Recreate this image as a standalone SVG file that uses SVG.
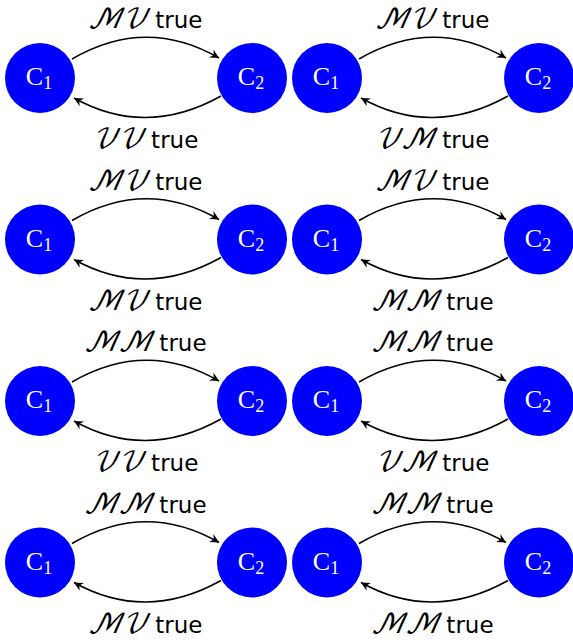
<svg xmlns="http://www.w3.org/2000/svg" width="573" height="643" viewBox="0 0 573 643">
<style>
.node{fill:#0000ff}
.nl{fill:#fff;font-family:"Liberation Serif",serif;font-size:26px;text-anchor:middle}
.sub{font-size:18px}
.edge{fill:none;stroke:#000;stroke-width:1.6}
.lab{font-family:"DejaVu Sans",sans-serif;font-size:23px;text-anchor:middle;fill:#000}
.scr{font-family:"DejaVu Math TeX Gyre","Noto Sans Math",serif;font-style:italic;font-size:27px}
</style>
<defs>
<marker id="ah" markerUnits="userSpaceOnUse" markerWidth="12" markerHeight="12" viewBox="-10 -6 12 12" refX="0" refY="0" orient="auto">
<path d="M0,0 L-9,-4.5 L-6,0 L-9,4.5 Z" fill="#000"/>
</marker>
</defs>

<!-- Row 1 left -->
<g id="panel1" transform="translate(0,0)">
<g id="p1-edges"><path class="edge" d="M72,59 Q146,16 219,58" marker-end="url(#ah)"/><path class="edge" d="M221,96 Q146,138 74,98" marker-end="url(#ah)"/></g>
<g id="p1-c1"><circle class="node" cx="40" cy="78" r="35"/><text class="nl" x="39" y="85">C<tspan class="sub" dy="4">1</tspan></text></g>
<g id="p1-c2"><circle class="node" cx="252" cy="78" r="35"/><text class="nl" x="251" y="85">C<tspan class="sub" dy="4">2</tspan></text></g>
<text class="lab" x="145" y="28"><tspan class="scr">ℳ𝒱</tspan> true</text>
<text class="lab" x="145" y="148"><tspan class="scr">𝒱𝒱</tspan> true</text>
</g>
<!-- Row 1 right -->
<g id="panel2" transform="translate(287,0)">
<g id="p2-edges"><path class="edge" d="M72,59 Q146,16 219,58" marker-end="url(#ah)"/><path class="edge" d="M221,96 Q146,138 74,98" marker-end="url(#ah)"/></g>
<g id="p2-c1"><circle class="node" cx="40" cy="78" r="35"/><text class="nl" x="39" y="85">C<tspan class="sub" dy="4">1</tspan></text></g>
<g id="p2-c2"><circle class="node" cx="252" cy="78" r="35"/><text class="nl" x="251" y="85">C<tspan class="sub" dy="4">2</tspan></text></g>
<text class="lab" x="145" y="28"><tspan class="scr">ℳ𝒱</tspan> true</text>
<text class="lab" x="145" y="148"><tspan class="scr">𝒱ℳ</tspan> true</text>
</g>
<!-- Row 2 left -->
<g id="panel3" transform="translate(0,161.5)">
<g id="p3-edges"><path class="edge" d="M72,59 Q146,16 219,58" marker-end="url(#ah)"/><path class="edge" d="M221,96 Q146,138 74,98" marker-end="url(#ah)"/></g>
<g id="p3-c1"><circle class="node" cx="40" cy="78" r="35"/><text class="nl" x="39" y="85">C<tspan class="sub" dy="4">1</tspan></text></g>
<g id="p3-c2"><circle class="node" cx="252" cy="78" r="35"/><text class="nl" x="251" y="85">C<tspan class="sub" dy="4">2</tspan></text></g>
<text class="lab" x="145" y="28"><tspan class="scr">ℳ𝒱</tspan> true</text>
<text class="lab" x="145" y="148"><tspan class="scr">ℳ𝒱</tspan> true</text>
</g>
<!-- Row 2 right -->
<g id="panel4" transform="translate(287,161.5)">
<g id="p4-edges"><path class="edge" d="M72,59 Q146,16 219,58" marker-end="url(#ah)"/><path class="edge" d="M221,96 Q146,138 74,98" marker-end="url(#ah)"/></g>
<g id="p4-c1"><circle class="node" cx="40" cy="78" r="35"/><text class="nl" x="39" y="85">C<tspan class="sub" dy="4">1</tspan></text></g>
<g id="p4-c2"><circle class="node" cx="252" cy="78" r="35"/><text class="nl" x="251" y="85">C<tspan class="sub" dy="4">2</tspan></text></g>
<text class="lab" x="145" y="28"><tspan class="scr">ℳ𝒱</tspan> true</text>
<text class="lab" x="145" y="148"><tspan class="scr">ℳℳ</tspan> true</text>
</g>
<!-- Row 3 left -->
<g id="panel5" transform="translate(0,323)">
<g id="p5-edges"><path class="edge" d="M72,59 Q146,16 219,58" marker-end="url(#ah)"/><path class="edge" d="M221,96 Q146,138 74,98" marker-end="url(#ah)"/></g>
<g id="p5-c1"><circle class="node" cx="40" cy="78" r="35"/><text class="nl" x="39" y="85">C<tspan class="sub" dy="4">1</tspan></text></g>
<g id="p5-c2"><circle class="node" cx="252" cy="78" r="35"/><text class="nl" x="251" y="85">C<tspan class="sub" dy="4">2</tspan></text></g>
<text class="lab" x="145" y="28"><tspan class="scr">ℳℳ</tspan> true</text>
<text class="lab" x="145" y="148"><tspan class="scr">𝒱𝒱</tspan> true</text>
</g>
<!-- Row 3 right -->
<g id="panel6" transform="translate(287,323)">
<g id="p6-edges"><path class="edge" d="M72,59 Q146,16 219,58" marker-end="url(#ah)"/><path class="edge" d="M221,96 Q146,138 74,98" marker-end="url(#ah)"/></g>
<g id="p6-c1"><circle class="node" cx="40" cy="78" r="35"/><text class="nl" x="39" y="85">C<tspan class="sub" dy="4">1</tspan></text></g>
<g id="p6-c2"><circle class="node" cx="252" cy="78" r="35"/><text class="nl" x="251" y="85">C<tspan class="sub" dy="4">2</tspan></text></g>
<text class="lab" x="145" y="28"><tspan class="scr">ℳℳ</tspan> true</text>
<text class="lab" x="145" y="148"><tspan class="scr">𝒱ℳ</tspan> true</text>
</g>
<!-- Row 4 left -->
<g id="panel7" transform="translate(0,484.5)">
<g id="p7-edges"><path class="edge" d="M72,59 Q146,16 219,58" marker-end="url(#ah)"/><path class="edge" d="M221,96 Q146,138 74,98" marker-end="url(#ah)"/></g>
<g id="p7-c1"><circle class="node" cx="40" cy="78" r="35"/><text class="nl" x="39" y="85">C<tspan class="sub" dy="4">1</tspan></text></g>
<g id="p7-c2"><circle class="node" cx="252" cy="78" r="35"/><text class="nl" x="251" y="85">C<tspan class="sub" dy="4">2</tspan></text></g>
<text class="lab" x="145" y="28"><tspan class="scr">ℳℳ</tspan> true</text>
<text class="lab" x="145" y="148"><tspan class="scr">ℳ𝒱</tspan> true</text>
</g>
<!-- Row 4 right -->
<g id="panel8" transform="translate(287,484.5)">
<g id="p8-edges"><path class="edge" d="M72,59 Q146,16 219,58" marker-end="url(#ah)"/><path class="edge" d="M221,96 Q146,138 74,98" marker-end="url(#ah)"/></g>
<g id="p8-c1"><circle class="node" cx="40" cy="78" r="35"/><text class="nl" x="39" y="85">C<tspan class="sub" dy="4">1</tspan></text></g>
<g id="p8-c2"><circle class="node" cx="252" cy="78" r="35"/><text class="nl" x="251" y="85">C<tspan class="sub" dy="4">2</tspan></text></g>
<text class="lab" x="145" y="28"><tspan class="scr">ℳℳ</tspan> true</text>
<text class="lab" x="145" y="148"><tspan class="scr">ℳℳ</tspan> true</text>
</g>
</svg>
